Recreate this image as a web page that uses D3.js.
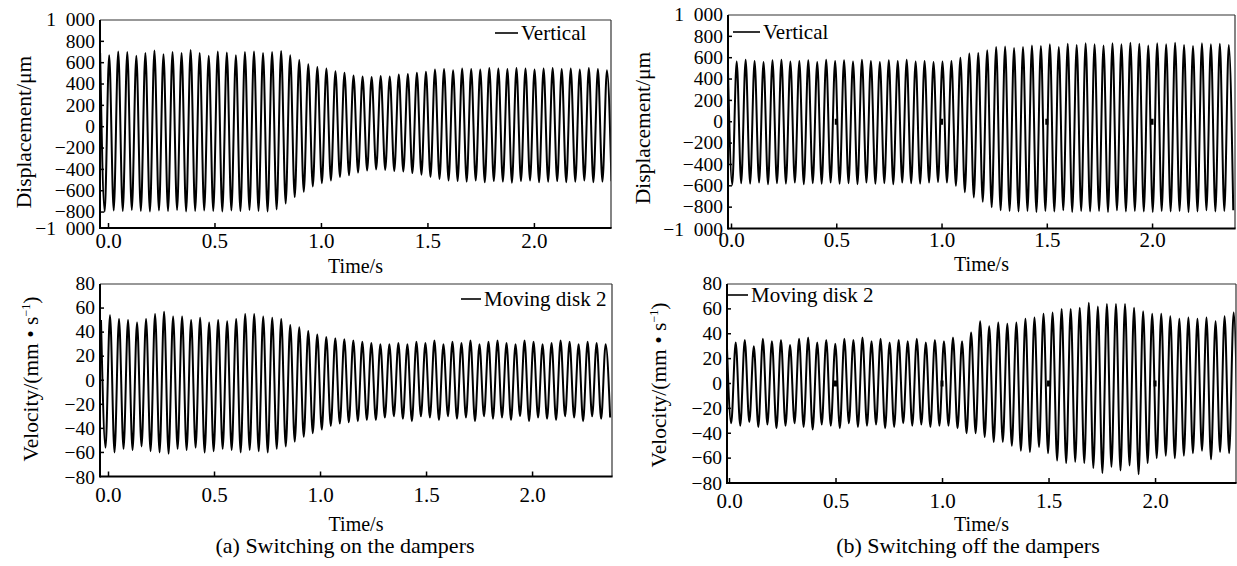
<!DOCTYPE html>
<meta charset="utf-8">
<style>
body { margin: 0; background: #fff; }
svg text { fill: #000; }
.signal { fill: none; stroke: #000; stroke-width: 2; stroke-linejoin: round; }
.axis-line { stroke: #000; stroke-width: 2; }
.frame-line { stroke: #333; stroke-width: 1.2; }
</style>
<body>
<svg id="chart" width="1237" height="566"></svg>
<script src="https://cdn.jsdelivr.net/npm/d3@7"></script>
<script>

// ---- data ----
var timeTicks = [0, 0.5, 1.0, 1.5, 2.0];
var dispTicks = [-1000, -800, -600, -400, -200, 0, 200, 400, 600, 800, 1000];
var velTicks = [-80, -60, -40, -20, 0, 20, 40, 60, 80];

// oscillation period (s), same rotor speed in all four records
var period = 0.0425;

// (a) switching on the dampers – displacement, first crest time and crest / trough per cycle
var aDispStart = -0.037;
var aDispPeaks = [690, 670, 705, 700, 665, 690, 715, 680, 700, 690, 720, 690, 665, 705, 695, 670, 700, 705, 690, 700,
  710, 670, 625, 585, 560, 545, 520, 505, 480, 470,
  465, 475, 470, 490, 495, 505, 515, 535, 540, 530,
  545, 540, 535, 550, 545, 540, 550, 545, 535, 545,
  550, 540, 545, 535, 550, 540, 530];
var aDispTroughs = [-795, -785, -790, -780, -790, -795, -785, -790, -780, -795, -790, -785, -790, -795, -785, -790, -780, -790, -795, -775,
  -720, -660, -610, -560, -530, -505, -470, -455, -430, -410,
  -400, -405, -415, -420, -435, -450, -470, -490, -505, -510,
  -515, -505, -520, -510, -515, -525, -510, -505, -520, -515,
  -510, -520, -515, -505, -520, -515, -510];

// (a) velocity of moving disk 2
var aVelStart = -0.033;
var aVelPeaks = [50, 54, 51, 50, 48, 51, 55, 57, 53, 53, 50, 52, 48, 50, 49, 51, 55, 55, 53, 52,
  51, 46, 44, 41, 38, 36, 35, 34, 33, 32,
  31, 30, 30, 31, 30, 32, 31, 33, 30, 32,
  31, 33, 30, 32, 33, 31, 30, 33, 32, 30,
  31, 33, 32, 30, 32, 31, 30];
var aVelTroughs = [-56, -60, -57, -58, -55, -59, -60, -61, -57, -58, -56, -60, -59, -57, -58, -60, -58, -59, -60, -57,
  -55, -51, -47, -44, -41, -38, -36, -35, -34, -33,
  -33, -31, -30, -32, -34, -30, -31, -33, -30, -32,
  -31, -34, -30, -32, -31, -33, -30, -34, -31, -32,
  -33, -30, -31, -34, -30, -32, -31];

// (b) switching off the dampers – displacement
var bDispStart = -0.0155;
var bDispPeaks = [575, 565, 580, 570, 560, 575, 580, 565, 570, 575, 560, 580, 570, 575, 565, 580, 570, 560, 575, 570, 580, 565, 570, 560, 565,
  570, 600, 640, 645, 670,
  700, 705, 690, 700, 715, 710, 725, 700, 730, 720,
  735, 725, 715, 735, 725, 740, 730, 715, 735, 725,
  740, 720, 710, 735, 725, 730, 720];
var bDispTroughs = [-590, -575, -580, -570, -585, -575, -580, -570, -585, -575, -580, -570, -580, -575, -585, -570, -580, -575, -585, -570, -575, -580, -570, -565,
  -570, -600, -660, -710, -750, -800,
  -830, -835, -840, -835, -845, -835, -840, -830, -845, -835,
  -840, -835, -845, -830, -840, -835, -840, -845, -835, -840,
  -835, -845, -840, -830, -840, -835, -830];

// (b) velocity of moving disk 2
var bVelStart = -0.011;
var bVelPeaks = [36, 33, 35, 30, 36, 34, 35, 31, 36, 37, 33, 35, 32, 36, 35, 37, 34, 36, 33, 35, 34, 36, 33, 35, 34,
  37, 34, 41, 50, 46, 49, 48, 49, 52, 53,
  56, 57, 60, 60, 61, 65, 62, 64, 64, 64,
  61, 58, 56, 56, 54, 52, 53, 52, 53, 50, 54, 57];
var bVelTroughs = [-32, -34, -31, -35, -33, -36, -34, -32, -35, -37, -33, -34, -36, -32, -35, -34, -33, -36, -35, -32, -34, -33, -35, -34,
  -34, -36, -40, -40, -43, -47, -47, -50, -54, -55,
  -51, -56, -62, -64, -63, -64, -68, -72, -67, -70,
  -66, -73, -64, -60, -58, -60, -58, -56, -54, -61, -55, -56, -58];

// ---- drawing ----
var FONT = "'Liberation Serif', 'Times New Roman', Times, serif";
var svg = d3.select("#chart").style("font-family", FONT);
var fmtTime = d3.format(".1f");
function fmtSigned(v) {
  var a = d3.format(",")(Math.abs(v)).replace(",", "\u2002");
  return (v < 0 ? "\u2212" : "") + a;
}

function toPoints(start, peaks, troughs) {
  var pts = [];
  peaks.forEach(function(p, i) {
    pts.push({t: start + i * period, v: p});
    pts.push({t: start + (i + 0.5) * period, v: troughs[i]});
  });
  return pts;
}

function label(sel, size) {
  return sel.attr("font-size", size).style("font-family", FONT).attr("fill", "#000");
}

function drawPanel(c) {
  var g = svg.append("g");
  var x = d3.scaleLinear().domain(c.xDomain).range([c.left, c.right]);
  var y = d3.scaleLinear().domain(c.yDomain).range(c.yRange);

  g.append("clipPath").attr("id", "clip-" + c.id)
    .append("rect")
    .attr("x", c.left).attr("y", c.top)
    .attr("width", c.right - c.left).attr("height", c.bottom - c.top);

  var line = d3.line()
    .x(function(d) { return x(d.t); })
    .y(function(d) { return y(d.v); })
    .curve(d3.curveMonotoneX);

  g.append("path")
    .datum(toPoints(c.start, c.peaks, c.troughs))
    .attr("class", "signal")
    .attr("clip-path", "url(#clip-" + c.id + ")")
    .attr("d", line);

  // small marks on the zero line
  if (c.zeroMarks) {
    g.selectAll(".zm").data(timeTicks.slice(1)).enter().append("rect")
      .attr("x", function(d) { return x(d) - 1.5; })
      .attr("y", y(0) - 3)
      .attr("width", 3).attr("height", 6)
      .attr("fill", "#000");
  }

  // frame
  g.append("line").attr("class", "frame-line")
    .attr("x1", c.left).attr("x2", c.right).attr("y1", c.top).attr("y2", c.top);
  g.append("line").attr("class", "frame-line")
    .attr("x1", c.right).attr("x2", c.right).attr("y1", c.top).attr("y2", c.bottom);
  g.append("line").attr("class", "axis-line")
    .attr("x1", c.left).attr("x2", c.right + 0.6).attr("y1", c.bottom).attr("y2", c.bottom);
  g.append("line").attr("class", "axis-line")
    .attr("x1", c.left).attr("x2", c.left).attr("y1", c.top).attr("y2", c.bottom + 1);

  // x axis
  var xa = g.append("g").attr("transform", "translate(0," + c.bottom + ")")
    .call(d3.axisBottom(x).tickValues(timeTicks).tickSize(-5).tickFormat(fmtTime));
  xa.attr("font-family", null);
  xa.select(".domain").remove();
  xa.selectAll("line").attr("stroke", "#000").attr("stroke-width", 1.5);
  label(xa.selectAll("text").attr("y", c.xLabelY).attr("dy", null), 21);

  // y axis
  var ya = g.append("g").attr("transform", "translate(" + c.left + ",0)")
    .call(d3.axisLeft(y).tickValues(c.yTicks).tickSize(-4).tickPadding(5).tickFormat(fmtSigned));
  ya.attr("font-family", null);
  ya.select(".domain").remove();
  ya.selectAll(".tick line").attr("stroke", "#000").attr("stroke-width", 1.5)
    .attr("display", function(d) { return (y(d) > c.top + 1 && y(d) < c.bottom - 1) ? null : "none"; });
  ya.selectAll(".tick").attr("transform", function(d) {
    var ty = y(d);
    if (d === c.yDomain[0]) ty = Math.min(ty + 2, c.bottom + 1);
    return "translate(0," + ty + ")";
  });
  label(ya.selectAll("text"), 19.5);

  // titles
  label(g.append("text"), 20).attr("x", (c.left + c.right) / 2).attr("y", c.xTitleY)
    .attr("text-anchor", "middle").text("Time/s");

  var yt = label(g.append("text"), 21.5)
    .attr("transform", "translate(" + c.yTitleX + "," + c.yTitleY + ") rotate(-90)")
    .attr("text-anchor", "middle");
  if (c.kind === "disp") {
    yt.text("Displacement/\u03bcm");
  } else {
    yt.append("tspan").text("Velocity/(mm \u2022 s");
    yt.append("tspan").attr("dy", -8).attr("font-size", 12).text("\u22121");
    yt.append("tspan").attr("dy", 8).text(")");
  }

  // legend
  g.append("line")
    .attr("x1", c.legX).attr("x2", c.legX + c.legLen)
    .attr("y1", c.legY).attr("y2", c.legY)
    .attr("stroke", "#000").attr("stroke-width", 1.6);
  label(g.append("text"), 21).attr("x", c.legX + c.legLen + 3).attr("y", c.legY + 7)
    .text(c.legend);
}

drawPanel({id: "aDisp", kind: "disp", left: 100, right: 611, top: 20, bottom: 228,
  xDomain: [-0.0376, 2.362], yDomain: [-1000, 1000], yRange: [233.4, 20], yTicks: dispTicks,
  start: aDispStart, peaks: aDispPeaks, troughs: aDispTroughs,
  xLabelY: 20, xTitleY: 273, yTitleX: 31, yTitleY: 132,
  legX: 495, legLen: 23, legY: 33, legend: "Vertical"});

drawPanel({id: "aVel", kind: "vel", left: 100, right: 612, top: 284, bottom: 476.5,
  xDomain: [-0.0377, 2.377], yDomain: [-80, 80], yRange: [476.5, 284], yTicks: velTicks,
  start: aVelStart, peaks: aVelPeaks, troughs: aVelTroughs,
  xLabelY: 25, xTitleY: 531, yTitleX: 38, yTitleY: 379,
  legX: 461, legLen: 20, legY: 299, legend: "Moving disk 2"});

drawPanel({id: "bDisp", kind: "disp", left: 728, right: 1235, top: 15, bottom: 228.5,
  xDomain: [-0.0143, 2.394], yDomain: [-1000, 1000], yRange: [228.5, 15], yTicks: dispTicks,
  start: bDispStart, peaks: bDispPeaks, troughs: bDispTroughs, zeroMarks: true,
  xLabelY: 18, xTitleY: 271, yTitleX: 650, yTitleY: 128,
  legX: 733, legLen: 27, legY: 32, legend: "Vertical"});

drawPanel({id: "bVel", kind: "vel", left: 727, right: 1236, top: 284, bottom: 483,
  xDomain: [-0.0094, 2.380], yDomain: [-80, 80], yRange: [483, 284], yTicks: velTicks,
  start: bVelStart, peaks: bVelPeaks, troughs: bVelTroughs, zeroMarks: true,
  xLabelY: 25, xTitleY: 531, yTitleX: 666, yTitleY: 385,
  legX: 728, legLen: 20, legY: 295, legend: "Moving disk 2"});

// captions
label(svg.append("text"), 22).attr("x", 345).attr("y", 553).attr("text-anchor", "middle")
  .text("(a) Switching on the dampers");
label(svg.append("text"), 22).attr("x", 968).attr("y", 553).attr("text-anchor", "middle")
  .text("(b) Switching off the dampers");

</script>
</body>
